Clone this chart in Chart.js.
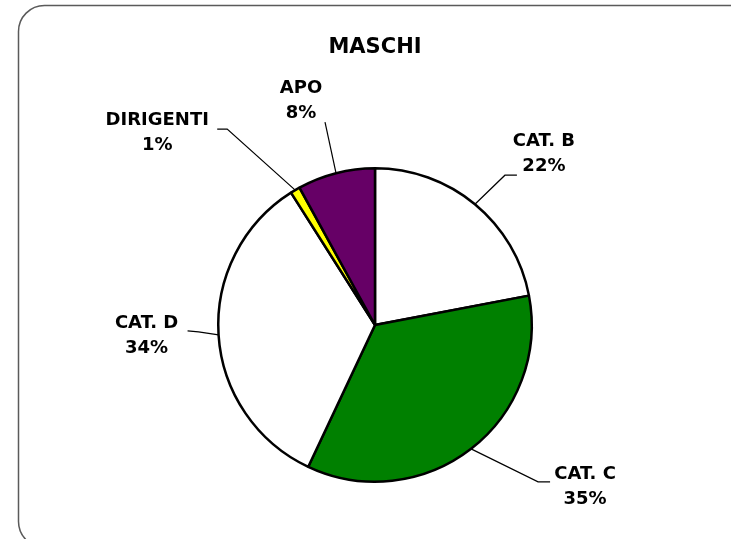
<!DOCTYPE html>
<html>
<head>
<meta charset="utf-8">
<script src="https://cdn.jsdelivr.net/npm/chart.js@4.4.1/dist/chart.umd.min.js"></script>
<style>
html,body{margin:0;padding:0;background:#fff;}
#wrap{width:731px;height:539px;position:relative;}
</style>
</head>
<body>
<div id="wrap"><canvas id="c" width="731" height="539"></canvas></div>
<script>
const title = "MASCHI";
const categories = ["CAT. B", "CAT. C", "CAT. D", "DIRIGENTI", "APO"];
const values = [22, 35, 34, 1, 8];
const colors = ["#FFFFFF", "#008000", "#FFFFFF", "#FFFF00", "#660066"];

// label layout: offsets relative to the slice's outer mid-point
const labelLayout = [
  {elbow:[30,-29], end:[42,-29], text:[69,-50]},
  {elbow:[67,33], end:[79,33], text:[114,38]},
  {elbow:[-20,-3], end:[-31,-4], text:[-72,1]},
  {elbow:[-68,-61], end:[-78,-61], text:[-138,-57]},
  {elbow:null, end:[-11,-51], text:[-35,-72]}
];

const frameAndLabels = {
  id: 'frameAndLabels',
  beforeDraw(chart) {
    const ctx = chart.ctx;
    ctx.save();
    ctx.fillStyle = '#fff';
    ctx.fillRect(0, 0, chart.width, chart.height);
    const x = 18.5, y = 5.5, w = 740, h = 542, r = 26;
    ctx.beginPath();
    ctx.moveTo(x + r, y);
    ctx.lineTo(x + w - r, y);
    ctx.arcTo(x + w, y, x + w, y + r, r);
    ctx.lineTo(x + w, y + h - r);
    ctx.arcTo(x + w, y + h, x + w - r, y + h, r);
    ctx.lineTo(x + r, y + h);
    ctx.arcTo(x, y + h, x, y + h - r, r);
    ctx.lineTo(x, y + r);
    ctx.arcTo(x, y, x + r, y, r);
    ctx.closePath();
    ctx.strokeStyle = '#5a5a5a';
    ctx.lineWidth = 1.5;
    ctx.stroke();
    ctx.restore();
  },
  afterDatasetsDraw(chart) {
    const ctx = chart.ctx;
    const meta = chart.getDatasetMeta(0);
    const total = values.reduce((a, b) => a + b, 0);
    ctx.save();
    ctx.fillStyle = '#000';
    ctx.font = 'bold 21px "DejaVu Sans"';
    ctx.textAlign = 'center';
    ctx.textBaseline = 'middle';
    ctx.fillText(title, (chart.chartArea.left + chart.chartArea.right) / 2, 48);
    ctx.font = 'bold 18px "DejaVu Sans"';
    meta.data.forEach((arc, i) => {
      const p = arc.getProps(['x', 'y', 'startAngle', 'endAngle', 'outerRadius'], true);
      const mid = (p.startAngle + p.endAngle) / 2;
      const ex = p.x + Math.cos(mid) * p.outerRadius;
      const ey = p.y + Math.sin(mid) * p.outerRadius;
      const L = labelLayout[i];
      ctx.beginPath();
      ctx.moveTo(ex, ey);
      if (L.elbow) ctx.lineTo(ex + L.elbow[0], ey + L.elbow[1]);
      ctx.lineTo(ex + L.end[0], ey + L.end[1]);
      ctx.strokeStyle = '#000';
      ctx.lineWidth = 1.2;
      ctx.stroke();
      const tx = ex + L.text[0], ty = ey + L.text[1];
      const pct = Math.round(values[i] / total * 100) + '%';
      ctx.fillText(categories[i], tx, ty - 12.5);
      ctx.fillText(pct, tx, ty + 12.5);
    });
    ctx.restore();
  }
};

new Chart(document.getElementById('c'), {
  type: 'pie',
  data: {
    labels: categories,
    datasets: [{
      data: values,
      backgroundColor: colors,
      borderColor: '#000',
      borderWidth: 2.5,
      borderAlign: 'center'
    }]
  },
  options: {
    responsive: false,
    animation: false,
    rotation: 0,
    layout: { padding: { top: 167, bottom: 56, left: 217, right: 198 } },
    plugins: {
      legend: { display: false },
      tooltip: { enabled: false },
      title: { display: false }
    }
  },
  plugins: [frameAndLabels]
});
</script>
</body>
</html>
